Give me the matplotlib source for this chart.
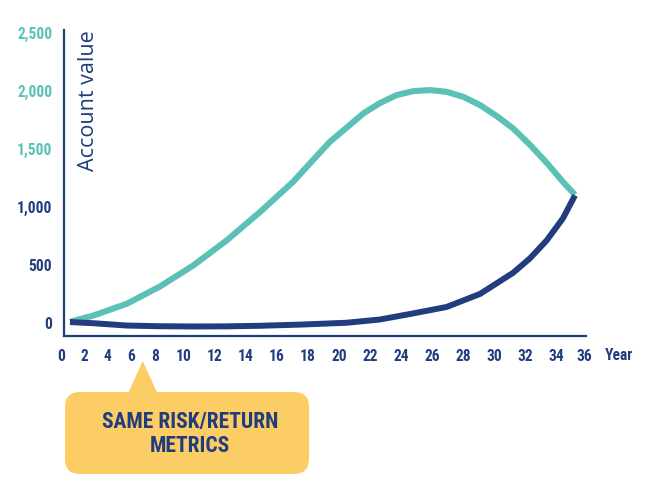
import numpy as np
import matplotlib
matplotlib.use("Agg")
import matplotlib.pyplot as plt
from matplotlib.patches import FancyBboxPatch, Polygon
from matplotlib.transforms import Affine2D

# ---------------- data ----------------
teal_years = [0.79, 2.77, 5.6, 8.35, 10.64, 12.79, 14.93, 17.05, 18.33, 19.43, 20.5,
              21.57, 22.64, 23.71, 24.78, 25.85, 26.93, 28.0, 29.07, 30.14, 31.21,
              32.28, 33.36, 34.46, 35.34]
teal_values = [12, 66, 167, 316, 497, 713, 957, 1216, 1403, 1562, 1683,
               1805, 1894, 1963, 1997, 2006, 1991, 1948, 1877, 1783, 1675,
               1535, 1380, 1216, 1105]

navy_years = [0.79, 2.77, 5.6, 8.35, 10.6, 12.8, 14.93, 17.5, 20.5, 22.64, 24.76,
              26.93, 29.07, 31.19, 32.28, 33.36, 34.46, 35.34]
navy_values = [10, 0, -20, -26, -28, -27, -22, -12, 4, 32, 84,
               140, 252, 433, 558, 713, 903, 1100]

x_ticks = list(range(0, 37, 2))
y_ticks = [0, 500, 1000, 1500, 2000, 2500]
y_tick_labels = ["0", "500", "1,000", "1,500", "2,000", "2,500"]
x_axis_title = "Year"
y_axis_title = "Account value"
callout_lines = "SAME RISK/RETURN\nMETRICS"

# ---------------- style ----------------
NAVY = "#213D7D"
TEAL = "#5BC1B6"
YELLOW = "#FDCD65"
COND = ["Liberation Sans Narrow", "Roboto Condensed", "Roboto", "DejaVu Sans"]
REG = ["Open Sans", "DejaVu Sans"]

W, H = 658, 503
fig = plt.figure(figsize=(W / 100, H / 100), dpi=100)
fig.patch.set_facecolor("white")

# axes spans pixel columns 60.7..586 and rows 30..336 (top origin)
ax = fig.add_axes([60.7 / W, (H - 336) / H, (586 - 60.7) / W, 306 / H])
ax.set_facecolor("none")

# the tick row of the original is spaced unevenly; use a piecewise-linear scale
knot_year = [0, 8, 10, 34, 36, 40]
knot_pos = [60.7, 155, 183.3, 556.7, 584, 611.3]
fwd = lambda v: np.interp(v, knot_year, knot_pos)
inv = lambda p: np.interp(p, knot_pos, knot_year)
ax.set_xscale("function", functions=(fwd, inv))

x_left = inv(64)
x_right = inv(586)
ax.set_xlim(0, x_right)
ax.set_ylim(-110, 2523)

ax.plot(teal_years, teal_values, color=TEAL, lw=4.4, solid_capstyle="butt",
        solid_joinstyle="round", zorder=3)
ax.plot(navy_years, navy_values, color=NAVY, lw=4.3, solid_capstyle="butt",
        solid_joinstyle="round", zorder=4)

for s in ["top", "right"]:
    ax.spines[s].set_visible(False)
ax.spines["left"].set_position(("data", x_left))
ax.spines["left"].set_color(NAVY)
ax.spines["left"].set_linewidth(1.6)
ax.spines["bottom"].set_color(NAVY)
ax.spines["bottom"].set_linewidth(1.6)
ax.spines["bottom"].set_bounds(x_left, x_right)

ax.set_xticks(x_ticks)
ax.set_xticklabels([str(t) for t in x_ticks])
ax.set_yticks(y_ticks)
ax.set_yticklabels(y_tick_labels)
ax.tick_params(axis="both", length=0)
ax.tick_params(axis="x", pad=9.5)
ax.tick_params(axis="y", pad=8.5)
ax.minorticks_off()

for lab in ax.get_xticklabels():
    lab.set_fontfamily(COND)
    lab.set_fontweight("bold")
    lab.set_fontsize(11.2)
    lab.set_color(NAVY)
for lab, v in zip(ax.get_yticklabels(), y_ticks):
    lab.set_fontfamily(COND)
    lab.set_fontweight("bold")
    lab.set_fontsize(11.2)
    lab.set_color(TEAL if v >= 1500 else NAVY)

# axis titles
pxt = Affine2D().scale(0.01) + fig.dpi_scale_trans  # pixel units, bottom-left origin
fig.text(619, H - 355, x_axis_title, transform=pxt, ha="center", va="center",
         fontfamily=COND, fontweight="bold", fontsize=11.2, color=NAVY)
fig.text(88, H - 30, y_axis_title, transform=pxt, ha="center", va="top",
         rotation=90, fontfamily=REG, fontsize=15.5, color=NAVY)

# callout
box = FancyBboxPatch((65, H - 474), 244, 82,
                     boxstyle="round,pad=0,rounding_size=15",
                     transform=pxt, facecolor=YELLOW, edgecolor="none", zorder=1)
fig.patches.append(box)
tri = Polygon([(128.3, H - 393), (157.3, H - 393), (142.7, H - 361)], closed=True,
              transform=pxt, facecolor=YELLOW, edgecolor="none", zorder=1)
fig.patches.append(tri)
fig.text(190, H - 434, callout_lines, transform=pxt, ha="center", va="center",
         fontfamily=COND, fontweight="bold", fontsize=15.5, color=NAVY,
         linespacing=1.1, zorder=2)

fig.savefig("out.png", dpi=100)
